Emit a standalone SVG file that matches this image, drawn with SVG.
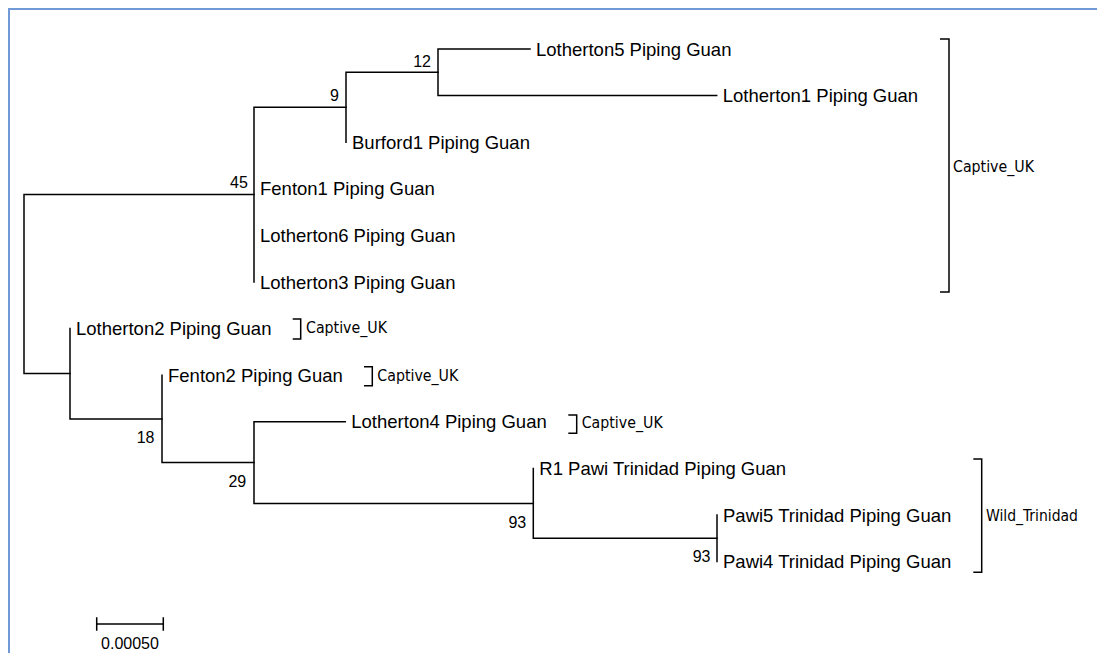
<svg xmlns="http://www.w3.org/2000/svg" width="1097" height="653" viewBox="0 0 1097 653">
<style>
.br{fill:none;stroke:#000;stroke-width:1.5;stroke-linecap:square}
.tx{font-family:"Liberation Sans",Arial,sans-serif;font-size:18.5px;fill:#000}
.bs{font-family:"Liberation Sans",Arial,sans-serif;font-size:16px;fill:#000;text-anchor:end}
.gp{font-family:"DejaVu Sans Condensed","DejaVu Sans",sans-serif;font-stretch:condensed;font-size:16.5px;fill:#000}
.bk{fill:none;stroke:#000;stroke-width:1.5}
</style>
<rect x="0" y="0" width="1097" height="653" fill="#fff"/>
<path d="M9 653 V9 H1097" fill="none" stroke="#6f9ad5" stroke-width="2"/>
<g id="connectors">
<path class="br" d="M24 194.6 V373.5 M24 194.6 H254 M24 373.5 H70"/>
<path class="br" d="M254 107.25 V282 M254 107.25 H346"/>
<path class="br" d="M346 72.3 V142.2 M346 72.3 H438"/>
<path class="br" d="M438 49 V95.6 M438 49 H530 M438 95.6 H716.7"/>
<path class="br" d="M70 328.6 V418.9 M70 418.9 H162"/>
<path class="br" d="M162 375.2 V462.6 M162 462.6 H254"/>
<path class="br" d="M254 421.8 V503.5 M254 421.8 H345.3 M254 503.5 H533.3"/>
<path class="br" d="M533.3 468.4 V538.3 M533.3 538.3 H717"/>
<path class="br" d="M717 515 V561.6"/>
</g>
<g id="bootstrap">
<text class="bs" x="431" y="66.7">12</text>
<text class="bs" x="339" y="100.7">9</text>
<text class="bs" x="247.8" y="188.3">45</text>
<text class="bs" x="154.5" y="442.7">18</text>
<text class="bs" x="246.2" y="486.7">29</text>
<text class="bs" x="526.2" y="528">93</text>
<text class="bs" x="710.5" y="561.7">93</text>
</g>
<g id="leaf-lotherton5"><text class="tx" x="536" y="55.6">Lotherton5 Piping Guan</text></g>
<g id="leaf-lotherton1"><text class="tx" x="722.7" y="102.2">Lotherton1 Piping Guan</text></g>
<g id="leaf-burford1"><text class="tx" x="352" y="148.8">Burford1 Piping Guan</text></g>
<g id="leaf-fenton1"><text class="tx" x="260" y="195.4">Fenton1 Piping Guan</text></g>
<g id="leaf-lotherton6"><text class="tx" x="260" y="242">Lotherton6 Piping Guan</text></g>
<g id="leaf-lotherton3"><text class="tx" x="260" y="288.6">Lotherton3 Piping Guan</text></g>
<g id="leaf-lotherton2"><text class="tx" x="76" y="335.2">Lotherton2 Piping Guan</text></g>
<g id="leaf-fenton2"><text class="tx" x="168" y="381.8">Fenton2 Piping Guan</text></g>
<g id="leaf-lotherton4"><text class="tx" x="351.3" y="428.4">Lotherton4 Piping Guan</text></g>
<g id="leaf-r1pawi"><text class="tx" x="539.3" y="475">R1 Pawi Trinidad Piping Guan</text></g>
<g id="leaf-pawi5"><text class="tx" x="723" y="521.6">Pawi5 Trinidad Piping Guan</text></g>
<g id="leaf-pawi4"><text class="tx" x="723" y="568.2">Pawi4 Trinidad Piping Guan</text></g>
<g id="group-captive-main">
<path class="bk" d="M940 39 H949 V292 H940"/>
<text class="gp" x="953" y="171.5" textLength="81" lengthAdjust="spacingAndGlyphs">Captive_UK</text>
</g>
<g id="group-captive-l2">
<path class="bk" d="M292.7 319 H300.7 V339 H292.7"/>
<text class="gp" x="306" y="333.3" textLength="81" lengthAdjust="spacingAndGlyphs">Captive_UK</text>
</g>
<g id="group-captive-f2">
<path class="bk" d="M364 366.7 H372.3 V385.7 H364"/>
<text class="gp" x="377.3" y="381" textLength="81" lengthAdjust="spacingAndGlyphs">Captive_UK</text>
</g>
<g id="group-captive-l4">
<path class="bk" d="M568.3 415 H576.7 V433.3 H568.3"/>
<text class="gp" x="581.7" y="427.7" textLength="81" lengthAdjust="spacingAndGlyphs">Captive_UK</text>
</g>
<g id="group-wild">
<path class="bk" d="M973.3 459 H981.7 V572.3 H973.3"/>
<text class="gp" x="986" y="521" textLength="92" lengthAdjust="spacingAndGlyphs">Wild_Trinidad</text>
</g>
<g id="scale-bar">
<path class="bk" d="M96.7 624 H163.3 M96.7 617.3 V630.7 M163.3 617.3 V630.7"/>
<text class="bs" style="text-anchor:middle" x="130" y="649.3">0.00050</text>
</g>
</svg>
